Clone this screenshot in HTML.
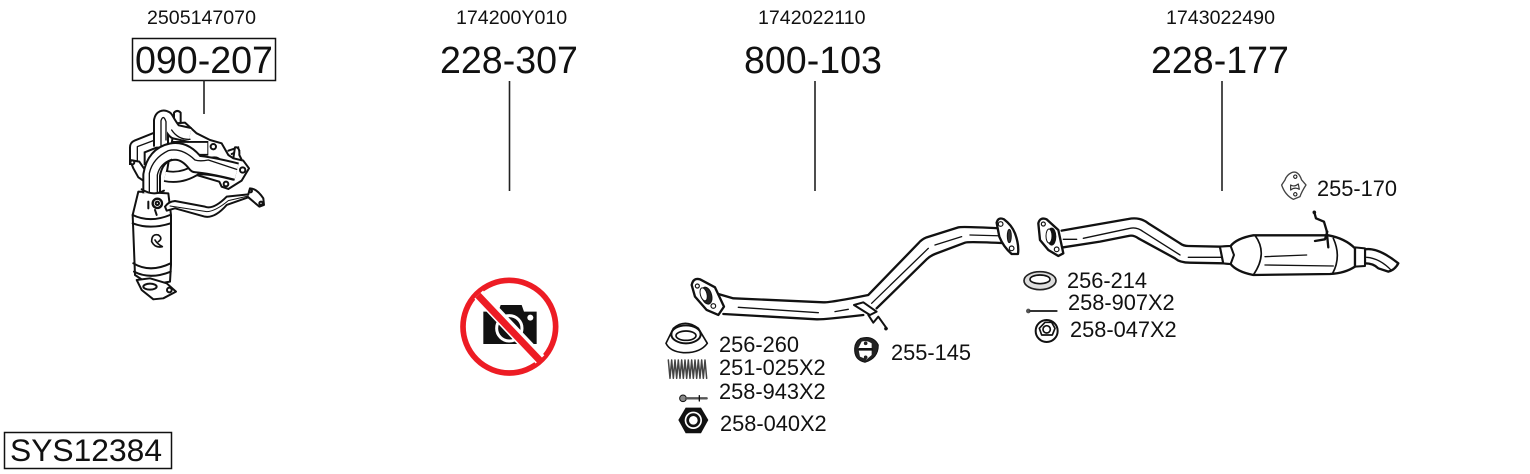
<!DOCTYPE html>
<html><head><meta charset="utf-8"><style>
html,body{margin:0;padding:0;background:#fff}
svg{display:block}
text{font-family:"Liberation Sans",sans-serif;fill:#111}
.t{font-size:19.6px}.b{font-size:37.6px}.l{font-size:21.8px}
</style></head><body>
<svg width="1530" height="474" viewBox="0 0 1530 474" xmlns="http://www.w3.org/2000/svg">
<text class="t" x="147" y="24">2505147070</text>
<text class="t" x="456" y="24">174200Y010</text>
<text class="t" x="758" y="24">1742022110</text>
<text class="t" x="1166" y="24">1743022490</text>
<rect x="132.500" y="38.500" width="143" height="42" fill="none" stroke="#111" stroke-width="1.500"/>
<text class="b" x="135" y="73">090-207</text>
<text class="b" x="440" y="73">228-307</text>
<text class="b" x="744" y="73">800-103</text>
<text class="b" x="1151" y="73">228-177</text>
<g stroke="#222" stroke-width="1.600"><path d="M204 80V114M509.500 81V191M815 81V191M1222 81V191"/></g>
<rect x="4.500" y="432.500" width="167" height="36" fill="none" stroke="#111" stroke-width="1.500"/>
<text x="10" y="461" style="font-size:31.8px">SYS12384</text>

<!-- manifold -->
<g transform="translate(100,90) scale(.3333)" fill="#fff" stroke="#111" stroke-width="6" stroke-linejoin="round" stroke-linecap="round">
<!-- studs -->
<path d="M222 110V68Q232 58 242 68V110Z"/>
<path d="M385 182L415 172M395 192L418 182"/>
<path d="M405 172Q420 170 418 195L428 215L400 205Z"/>
<!-- head flange -->
<path d="M225 100L255 98L290 130L330 150L365 160L385 195L400 205L430 212L447 235L425 272L385 297L365 290L358 275L290 255L200 250Z"/>
<circle cx="340" cy="170" r="8"/><circle cx="428" cy="240" r="8"/><circle cx="378" cy="282" r="7"/>
<!-- left bent tube -->
<path d="M112 225V172L172 148" fill="none" stroke="#111" stroke-width="50" stroke-linecap="butt"/>
<path d="M112 225V172L172 148" fill="none" stroke="#fff" stroke-width="38" stroke-linecap="butt"/>
<path d="M112 215V170L165 150" fill="none" stroke-width="4"/>
<path d="M90 210L118 215L135 240L130 272L115 262L100 235Z"/>
<circle cx="97" cy="217" r="6"/>
<!-- second runner -->
<path d="M215 175H325" fill="none" stroke="#111" stroke-width="44" stroke-linecap="butt"/>
<path d="M215 175H322" fill="none" stroke="#fff" stroke-width="33" stroke-linecap="butt"/>
<path d="M270 205Q300 215 325 205Q355 195 365 215" fill="none" stroke-width="5"/>
<!-- upright runner -->
<path d="M183 170V92Q186 78 198 85Q215 115 225 125L270 135" fill="none" stroke="#111" stroke-width="48" stroke-linecap="butt"/>
<path d="M183 170V92Q186 78 198 85Q215 115 225 125L270 135" fill="none" stroke="#fff" stroke-width="36" stroke-linecap="butt"/>
<path d="M183 170V92Q190 72 198 95V150" fill="none" stroke-width="4"/>
<path d="M215 120Q235 150 270 148" fill="none" stroke-width="4"/>
<!-- lower runner -->
<path d="M195 258Q245 268 290 238Q330 235 405 255" fill="none" stroke="#111" stroke-width="36" stroke-linecap="butt"/>
<path d="M195 258Q245 268 290 238Q330 235 405 255" fill="none" stroke="#fff" stroke-width="25" stroke-linecap="butt"/>
<!-- catalyst -->
<path d="M115 305L205 310L213 375V525L210 575L150 585L105 555L98 375Z"/>
<path d="M98 375Q150 400 210 375M98 400Q150 420 212 400M100 520Q150 550 212 520M102 545Q150 570 212 545" fill="none"/>
<path d="M110 570L150 565L200 580L228 605L190 625L160 628L125 600Z"/>
<circle cx="208" cy="600" r="7"/><ellipse cx="150" cy="590" rx="20" ry="9"/>
<path d="M187 470Q165 475 155 455Q155 430 175 435Q190 445 175 455M165 450Q172 462 187 470" fill="none" stroke-width="5"/>
<path d="M145 335V355M165 360L170 375" fill="none"/>
<!-- main front tube -->
<path d="M155 310V255Q165 195 215 185Q255 178 288 222Q330 225 410 245" fill="none" stroke="#111" stroke-width="56" stroke-linecap="butt"/>
<path d="M155 310V255Q165 195 215 185Q255 178 288 222Q330 225 410 245" fill="none" stroke="#fff" stroke-width="44" stroke-linecap="butt"/>
<path d="M148 305V250Q158 205 205 182Q245 172 285 210Q300 215 325 210L410 238" fill="none" stroke-width="4"/>
<path d="M172 310V255Q180 220 215 208" fill="none" stroke-width="4"/>
<path d="M125 298Q160 320 192 302" fill="none"/>
<circle cx="172" cy="340" r="14" stroke-width="7"/><circle cx="172" cy="340" r="5"/>
<!-- small pipe -->
<path d="M195 350Q205 335 225 333L315 350Q340 360 380 320L445 313L450 295Q470 295 490 325L492 345L478 350L445 322L380 345Q345 385 315 380L225 355L200 362Z"/>
<path d="M210 348L320 365Q345 365 385 332L445 318" fill="none" stroke-width="3"/>
<circle cx="483" cy="340" r="5"/><circle cx="452" cy="303" r="4"/>
</g>

<!-- no photo -->
<g transform="translate(450,270) scale(.3333)">
<circle cx="178" cy="170" r="139" fill="#fff" stroke="#ed1c24" stroke-width="17"/>
<path d="M100 125H145L152 105H215L222 125H260V222H100Z" fill="#111"/>
<circle cx="178" cy="175" r="38" fill="none" stroke="#fff" stroke-width="9"/>
<circle cx="241" cy="143" r="9" fill="#fff"/>
<path d="M86 74L270 268" stroke="#fff" stroke-width="36"/>
<path d="M84 76L272 274" stroke="#ed1c24" stroke-width="21"/>
</g>

<!-- front pipe -->
<g transform="translate(650,200) scale(.3333)" stroke="#111" stroke-linejoin="round" stroke-linecap="round">
<path d="M205 282L250 295L535 308L655 285L815 120L940 80L1050 85L1070 130L960 125L840 170L680 325L640 345L510 358L220 342Z" fill="#fff" stroke="none"/>
<path d="M205 282L250 295L520 307Q540 308 655 285L805 130Q815 118 830 112L925 82Q935 79 1050 85M220 342L500 358Q520 359 640 345M680 325L830 178Q840 168 855 162L945 128Q955 124 1070 130" fill="none" stroke-width="7"/>
<path d="M265 322L505 338M555 335L595 328M665 310L835 145M855 135L935 110M960 105L1070 108" fill="none" stroke-width="4"/>
<path d="M125 255Q130 232 150 238L195 262L222 320L205 345L170 330L135 290Z" fill="#fff" stroke-width="7"/>
<ellipse cx="170" cy="287" rx="15" ry="26" fill="#222" stroke-width="3" transform="rotate(-15 170 287)"/>
<ellipse cx="161" cy="283" rx="10" ry="20" fill="#fff" stroke-width="3" transform="rotate(-15 161 283)"/>
<circle cx="142" cy="258" r="6" fill="#fff" stroke-width="3.500"/><circle cx="190" cy="318" r="7" fill="#fff" stroke-width="3.500"/>
<path d="M1040 68Q1045 50 1062 58Q1085 75 1095 100Q1108 135 1104 162L1085 162Q1060 140 1048 110Z" fill="#fff" stroke-width="7"/>
<ellipse cx="1078" cy="108" rx="6" ry="20" fill="#333" stroke-width="3"/>
<circle cx="1052" cy="72" r="7" fill="#fff" stroke-width="3.500"/><circle cx="1085" cy="145" r="7" fill="#fff" stroke-width="3.500"/>
<path d="M612 315L640 307L680 335L660 345Z" fill="#fff" stroke-width="6"/>
<path d="M655 345L670 368L685 350L710 385" fill="none" stroke-width="6"/><circle cx="708" cy="386" r="5" fill="#111"/>
<!-- insulator -->
<path d="M632 415Q670 405 685 435Q685 475 645 487Q612 480 614 445Q615 425 632 415Z" fill="#222" stroke-width="3"/>
<path d="M635 425Q650 420 665 430L665 465L650 478L630 470L625 445Z" fill="#fff" stroke="none"/>
<path d="M628 448H665" stroke-width="8"/><circle cx="647" cy="430" r="5" fill="#222"/><circle cx="647" cy="472" r="5" fill="#222"/>
<!-- gasket -->
<path d="M48 430L70 385Q105 355 145 385L172 430Q150 460 100 458Q60 455 48 430Z" fill="#fff" stroke-width="5"/>
<ellipse cx="108" cy="403" rx="44" ry="27" fill="#fff" stroke-width="6"/><ellipse cx="108" cy="407" rx="30" ry="14" fill="#fff" stroke-width="5"/>
<!-- spring -->
<path d="M55 480L60 535L65 480L70 535L75 480L80 535L85 480L90 535L95 480L100 535L105 480L110 535L115 480L120 535L125 480L130 535L135 480L140 535L145 480L150 535L155 480L160 535L165 480L170 535" fill="none" stroke-width="4.500" stroke="#444"/>
<!-- bolt -->
<circle cx="99" cy="595" r="10" fill="#888" stroke-width="3"/><path d="M108 595H170" stroke-width="7" stroke="#555"/><path d="M148 587V603" stroke-width="4"/>
<!-- nut -->
<path d="M85 660L107 623H153L175 660L153 700H107Z" fill="#111" stroke="none"/>
<circle cx="130" cy="661" r="26" fill="#fff" stroke="none"/><circle cx="130" cy="661" r="17" fill="none" stroke-width="8"/>
</g>
<text class="l" x="719" y="352">256-260</text>
<text class="l" x="719" y="375">251-025X2</text>
<text class="l" x="719" y="399">258-943X2</text>
<text class="l" x="720" y="431">258-040X2</text>
<text class="l" x="891" y="360">255-145</text>

<!-- rear pipe -->
<g transform="translate(1020,160) scale(.3333)" stroke="#111" stroke-linejoin="round" stroke-linecap="round">
<path d="M125 212L200 200L340 175Q365 175 385 190L495 258L605 260L610 310L495 308Q465 300 345 225L240 245L130 262Z" fill="#fff" stroke="none"/>
<path d="M125 212L325 177Q360 170 385 190L480 250Q490 258 505 258L605 260M130 262L240 245L325 228Q340 224 355 235L465 295Q480 308 510 308L610 310" fill="none" stroke-width="7"/>
<path d="M130 238H170M190 235L330 205Q350 200 370 215L480 285M505 292H605" fill="none" stroke-width="4"/>
<path d="M55 190Q60 170 80 178L115 210L130 280L115 288L85 270L60 240Z" fill="#fff" stroke-width="7"/>
<ellipse cx="95" cy="230" rx="13" ry="26" fill="#111" stroke-width="2"/>
<ellipse cx="87" cy="228" rx="9" ry="21" fill="#fff" stroke-width="3"/>
<circle cx="70" cy="192" r="6" fill="#fff" stroke-width="3.500"/><circle cx="110" cy="268" r="7" fill="#fff" stroke-width="3.500"/>
<!-- tail -->
<path d="M1035 268Q1075 262 1135 310Q1125 330 1105 335L1075 325Q1060 310 1035 310Z" fill="#fff" stroke-width="7"/>
<path d="M1040 292Q1080 295 1115 332" fill="none" stroke-width="4"/>
<path d="M1005 262L1035 265V318L1005 320Z" fill="#fff" stroke-width="6"/>
<!-- body -->
<path d="M600 260L632 258Q650 235 700 226L925 226Q975 235 1005 265V320Q975 340 930 342L700 345Q650 335 632 312L610 310Z" fill="#fff" stroke-width="7"/>
<path d="M600 260L632 258L642 285L632 312L610 310Z" fill="#fff" stroke-width="6"/>
<path d="M705 226Q745 280 700 345M940 235Q965 290 938 340" fill="none" stroke-width="5"/>
<path d="M735 290L860 285M735 315L940 318" fill="none" stroke-width="4"/>
<!-- hanger -->
<path d="M883 157L888 175L912 185L920 212L925 262M885 243L915 238L922 215" fill="none" stroke-width="7"/>
<circle cx="883" cy="157" r="5" fill="#111"/>
<!-- insulator 255-170 -->
<path d="M815 38Q835 30 845 60L858 75Q845 95 840 110L820 118Q795 105 785 75L795 60Q800 45 815 38Z" fill="#fff" stroke="#444" stroke-width="4"/>
<path d="M812 75Q822 82 835 72L838 88Q825 80 812 90Z" fill="#fff" stroke="#333" stroke-width="3.500"/>
<circle cx="826" cy="50" r="5" fill="#fff" stroke-width="3"/><circle cx="826" cy="103" r="5" fill="#fff" stroke-width="3"/>
<!-- gasket -->
<ellipse cx="60" cy="362" rx="48" ry="27" fill="#ddd" stroke="#222" stroke-width="5"/>
<ellipse cx="60" cy="358" rx="30" ry="13" fill="#fff" stroke-width="5"/>
<!-- long bolt -->
<circle cx="25" cy="453" r="7" fill="#555" stroke="none"/><path d="M30 453H110" stroke="#333" stroke-width="6"/>
<!-- flange nut -->
<circle cx="80" cy="513" r="33" fill="#fff" stroke-width="6"/>
<path d="M58 505L75 487H95L105 505L97 525H65Z" fill="#fff" stroke-width="5"/>
<circle cx="80" cy="508" r="11" fill="#fff" stroke-width="5"/>
</g>
<text class="l" x="1317" y="196">255-170</text>
<text class="l" x="1067" y="288">256-214</text>
<text class="l" x="1068" y="310">258-907X2</text>
<text class="l" x="1070" y="337">258-047X2</text>
</svg>
</body></html>
